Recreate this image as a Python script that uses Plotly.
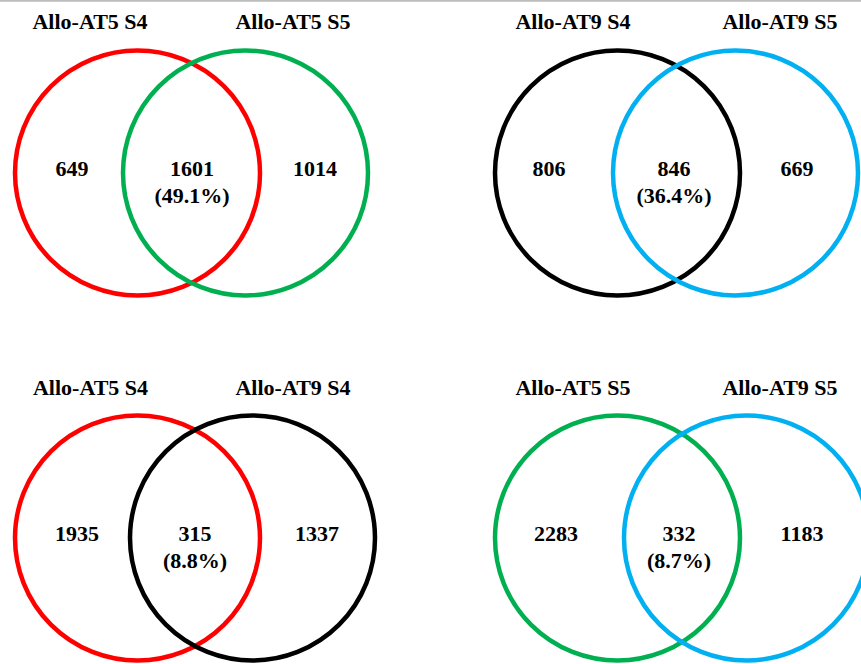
import plotly.graph_objects as go

# ---- data ----
left_titles = ["Allo-AT5 S4", "Allo-AT9 S4", "Allo-AT5 S4", "Allo-AT5 S5"]
right_titles = ["Allo-AT5 S5", "Allo-AT9 S5", "Allo-AT9 S4", "Allo-AT9 S5"]
only_left = [649, 806, 1935, 2283]
shared = [1601, 846, 315, 332]
only_right = [1014, 669, 1337, 1183]

# ---- styling / layout (pixel coordinates of the 861x664 canvas) ----
W, H = 861, 664
RED, GREEN, BLACK, BLUE = "#FF0000", "#00B050", "#000000", "#00B0F0"
left_colors = [RED, BLACK, RED, GREEN]
right_colors = [GREEN, BLUE, BLACK, BLUE]
R = 122.5
left_cx = [137.5, 617.5, 137.5, 617.5]
right_cx = [245.5, 735.5, 252.5, 746.5]
cy = [173, 173, 538, 538]
title_y = [23, 23, 389, 389]
left_title_x = [90, 573, 90.5, 573]
right_title_x = [293, 780, 293, 780]
num_left_x = [72, 549, 77, 556]
num_mid_x = [192, 674, 195, 679]
num_right_x = [315, 797, 317, 802]
num_dy = -3
pct_dy = 24

FONT = "Liberation Serif, Times New Roman, serif"

fig = go.Figure()

shapes = []
for i in range(4):
    for cx, col in ((left_cx[i], left_colors[i]), (right_cx[i], right_colors[i])):
        shapes.append(dict(type="circle", xref="x", yref="y",
                           x0=cx - R, x1=cx + R, y0=cy[i] - R, y1=cy[i] + R,
                           line=dict(color=col, width=4.5), fillcolor="rgba(0,0,0,0)",
                           layer="above"))
shapes.append(dict(type="line", xref="paper", yref="y", x0=0, x1=1, y0=0.8, y1=0.8,
                   line=dict(color="#BDBDBD", width=2)))

# counts
xs, ys, texts = [], [], []
for i in range(4):
    pct = shared[i] / (only_left[i] + shared[i] + only_right[i]) * 100
    xs += [num_left_x[i], num_mid_x[i], num_right_x[i], num_mid_x[i]]
    ys += [cy[i] + num_dy] * 3 + [cy[i] + pct_dy]
    texts += [str(only_left[i]), str(shared[i]), str(only_right[i]), f"({pct:.1f}%)"]
fig.add_trace(go.Scatter(x=xs, y=ys, text=[f"<b>{t}</b>" for t in texts], mode="text",
                         textposition="middle center",
                         textfont=dict(family=FONT, size=22, color="#000000"),
                         hoverinfo="skip", showlegend=False, cliponaxis=False))

# set titles
tx, ty, tt = [], [], []
for i in range(4):
    tx += [left_title_x[i], right_title_x[i]]
    ty += [title_y[i], title_y[i]]
    tt += [left_titles[i], right_titles[i]]
fig.add_trace(go.Scatter(x=tx, y=ty, text=[f"<b>{t}</b>" for t in tt], mode="text",
                         textposition="middle center",
                         textfont=dict(family=FONT, size=22, color="#000000"),
                         hoverinfo="skip", showlegend=False, cliponaxis=False))

fig.update_layout(
    width=W, height=H,
    margin=dict(l=0, r=0, t=0, b=0),
    paper_bgcolor="white", plot_bgcolor="white",
    xaxis=dict(range=[0, W], visible=False, fixedrange=True),
    yaxis=dict(range=[H, 0], visible=False, fixedrange=True),
    shapes=shapes,
)

fig.write_html("out.html", config={"displayModeBar": False},
               post_script="document.body.style.margin='0';document.body.style.overflow='hidden';")
